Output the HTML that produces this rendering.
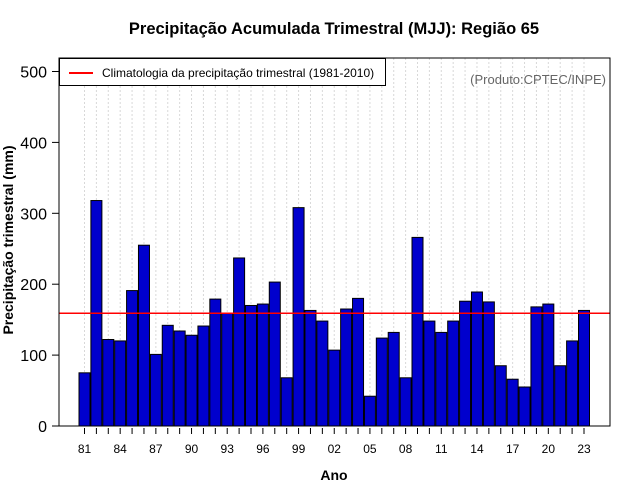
<!DOCTYPE html>
<html><head><meta charset="utf-8"><style>
body{margin:0;background:#fff;}
svg{display:block;font-family:"Liberation Sans",sans-serif;}
</style></head><body>
<svg id="c" width="640" height="500"></svg>
<script>
const years=[81,82,83,84,85,86,87,88,89,90,91,92,93,94,95,96,97,98,99,0,1,2,3,4,5,6,7,8,9,10,11,12,13,14,15,16,17,18,19,20,21,22,23];
const values=[75,318,122,120,191,255,101,142,134,128,141,179,159,237,170,172,203,68,308,163,148,107,165,180,42,124,132,68,266,148,132,148,176,189,175,85,66,55,168,172,85,120,163];
const climatology=[159];
const yTicks=[0,100,200,300,400,500];
const NS='http://www.w3.org/2000/svg';
const svg=document.getElementById('c');
function el(t,a,p){const e=document.createElementNS(NS,t);for(const k in a)e.setAttribute(k,a[k]);(p||svg).appendChild(e);return e;}
const L=59,R=610,T=58,B=426;
const y=v=>426-v*0.709;
const x=i=>84.5+i*(584-84.5)/(years.length-1);
years.forEach((yr,i)=>{const g=el('line',{x1:x(i),x2:x(i),y1:T,y2:B,stroke:'#d8d8d8','stroke-dasharray':'2,2'});

});
values.forEach((v,i)=>{const r=el('rect',{x:x(i)-5.5,y:y(v),width:11,height:B-y(v),fill:'#0000cd',stroke:'#000','stroke-width':1});

});
const cl=el('line',{x1:L,x2:R,y1:y(climatology[0]),y2:y(climatology[0]),stroke:'#ff0000','stroke-width':1.5});


const bx=el('rect',{x:L,y:T,width:R-L,height:B-T,fill:'none',stroke:'#000'});


yTicks.forEach(v=>{const t=el('line',{x1:L-7,x2:L,y1:y(v),y2:y(v),stroke:'#000'});


const tx=el('text',{x:L-12,y:y(v)+6,'text-anchor':'end','font-size':16});tx.textContent=v;

});
years.forEach((yr,i)=>{const t=el('line',{x1:x(i),x2:x(i),y1:B+2,y2:B+8,stroke:'#000'});


if(i%3===0){const tx=el('text',{x:x(i),y:453,'text-anchor':'middle','font-size':12});tx.textContent=String(yr).padStart(2,'0');

}});
</script>
<div style="position:absolute;left:0;top:0;width:640px;height:500px;pointer-events:none;font-family:'Liberation Sans',sans-serif;">
<div style="position:absolute;left:0;width:668px;top:20px;text-align:center;font-weight:bold;font-size:16.5px;">Precipitação Acumulada Trimestral (MJJ): Região 65</div>
<div style="position:absolute;left:0;width:668px;top:467px;text-align:center;font-weight:bold;font-size:14px;">Ano</div>
<div style="position:absolute;left:-92px;top:232px;width:200px;text-align:center;transform:rotate(-90deg);font-weight:bold;font-size:14px;">Precipitação trimestral (mm)</div>
<div style="position:absolute;left:59px;top:58px;width:327px;height:28px;border:1px solid #000;background:#fff;box-sizing:border-box;">
<div style="position:absolute;left:9px;top:13px;width:24px;height:2px;background:#ff0000;"></div>
<div style="position:absolute;left:42px;top:7px;font-size:12px;">Climatologia da precipitação trimestral (1981-2010)</div></div>
<div style="position:absolute;right:34px;top:72px;font-size:13px;color:#666;">(Produto:CPTEC/INPE)</div>
</div>
</body></html>
